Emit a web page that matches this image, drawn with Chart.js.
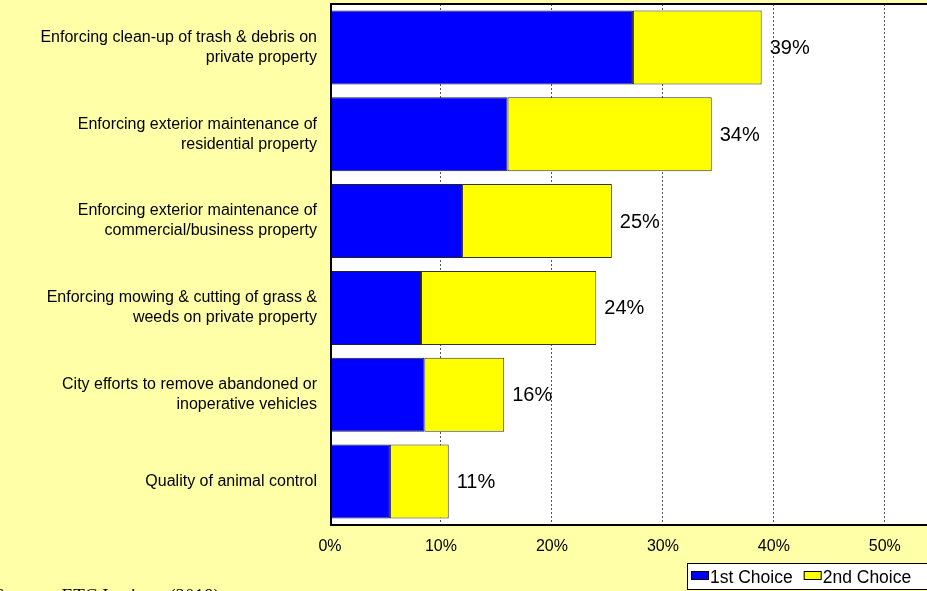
<!DOCTYPE html>
<html>
<head>
<meta charset="utf-8">
<script src="https://cdn.jsdelivr.net/npm/chart.js@4"></script>
<style>
  html, body { margin: 0; padding: 0; background: #ffffa8; overflow: hidden; }
  canvas { display: block; }
</style>
</head>
<body>
<canvas id="chart" width="927" height="591"></canvas>
<script>
const categories = [
    ['Enforcing clean-up of trash & debris on', 'private property'],
    ['Enforcing exterior maintenance of', 'residential property'],
    ['Enforcing exterior maintenance of', 'commercial/business property'],
    ['Enforcing mowing & cutting of grass &', 'weeds on private property'],
    ['City efforts to remove abandoned or', 'inoperative vehicles'],
    'Quality of animal control'
];
const firstChoice = [27.3, 16.0, 11.9, 8.2, 8.5, 5.4];
const secondChoice = [11.6, 18.4, 13.5, 15.8, 7.2, 5.3];
const seriesNames = ['1st Choice', '2nd Choice'];
const xTicks = [0, 10, 20, 30, 40, 50];
const sourceNote = 'Source:  ETC Institute (2018)';

const FONT = '"Liberation Sans", Arial, sans-serif';

// white plot area behind the bars
const plotBackground = {
    id: 'plotBackground',
    beforeDraw(chart) {
        const { ctx, chartArea: a } = chart;
        ctx.save();
        ctx.fillStyle = '#ffffff';
        ctx.fillRect(a.left, a.top, a.right - a.left, a.bottom - a.top);
        ctx.restore();
    }
};

// frame, total labels, legend box and source line
const overlay = {
    id: 'overlay',
    afterDatasetsDraw(chart) {
        const { ctx, chartArea: a } = chart;
        ctx.save();

        // totals at the end of each stacked bar
        ctx.font = '20px ' + FONT;
        ctx.fillStyle = '#000';
        ctx.textBaseline = 'middle';
        ctx.textAlign = 'left';
        chart.getDatasetMeta(1).data.forEach((bar, i) => {
            const total = firstChoice[i] + secondChoice[i];
            ctx.fillText(Math.round(total) + '%', bar.x + 8, bar.y + 1);
        });

        // plot frame (top, left, bottom)
        ctx.strokeStyle = '#000';
        ctx.lineWidth = 2;
        ctx.beginPath();
        ctx.moveTo(a.right + 2, a.top);
        ctx.lineTo(a.left + 1, a.top);
        ctx.lineTo(a.left + 1, a.bottom);
        ctx.lineTo(a.right + 2, a.bottom);
        ctx.stroke();

        // legend
        const colors = chart.data.datasets.map(d => d.backgroundColor);
        ctx.fillStyle = '#fff';
        ctx.fillRect(687, 563, 260, 26);
        ctx.lineWidth = 1;
        ctx.strokeRect(687.5, 563.5, 260, 26);
        ctx.font = '17.5px ' + FONT;
        ctx.textBaseline = 'alphabetic';
        let x = 691;
        chart.data.datasets.forEach((d, i) => {
            ctx.fillStyle = colors[i];
            ctx.fillRect(x, 571, 18, 9);
            ctx.strokeStyle = '#000';
            ctx.strokeRect(x + 0.5, 571.5, 17, 8);
            ctx.fillStyle = '#000';
            ctx.fillText(d.label, x + 19, 583);
            x += 19 + ctx.measureText(d.label).width + 11;
        });

        // source line along the bottom edge
        ctx.font = '19px "Liberation Serif", "Times New Roman", serif';
        ctx.fillStyle = '#000';
        ctx.fillText(sourceNote, -6, 601.5);

        ctx.restore();
    }
};

new Chart(document.getElementById('chart'), {
    type: 'bar',
    data: {
        labels: categories,
        datasets: [
            {
                label: seriesNames[0],
                data: firstChoice,
                backgroundColor: '#0000ff',
                borderColor: '#222',
                borderWidth: 1,
                borderSkipped: false
            },
            {
                label: seriesNames[1],
                data: secondChoice,
                backgroundColor: '#ffff00',
                borderColor: '#333',
                borderWidth: 1,
                borderSkipped: false
            }
        ]
    },
    options: {
        indexAxis: 'y',
        responsive: false,
        animation: false,
        devicePixelRatio: 1,
        layout: { padding: { top: 4, right: 0, left: 0, bottom: 0 } },
        datasets: {
            bar: { barPercentage: 0.853, categoryPercentage: 1 }
        },
        scales: {
            x: {
                stacked: true,
                min: 0,
                max: 53.8,
                afterBuildTicks: scale => {
                    scale.ticks = xTicks.map(v => ({ value: v }));
                },
                afterFit: scale => {
                    scale.height = 66;
                    scale.paddingLeft = 0;
                    scale.paddingRight = 0;
                },
                ticks: {
                    callback: v => v + '%',
                    color: '#000',
                    font: { family: FONT, size: 16 },
                    padding: 12,
                    maxRotation: 0
                },
                grid: {
                    color: '#555',
                    lineWidth: 1,
                    drawTicks: false
                },
                border: { display: false, dash: [2, 2] }
            },
            y: {
                stacked: true,
                afterFit: scale => {
                    scale.width = 330;
                    scale.paddingTop = 0;
                    scale.paddingBottom = 0;
                },
                ticks: {
                    color: '#000',
                    font: { family: FONT, size: 16, lineHeight: 1.25 },
                    padding: 13
                },
                grid: { display: false, drawTicks: false },
                border: { display: false }
            }
        },
        plugins: {
            legend: { display: false },
            tooltip: { enabled: false }
        }
    },
    plugins: [plotBackground, overlay]
});
</script>
</body>
</html>
